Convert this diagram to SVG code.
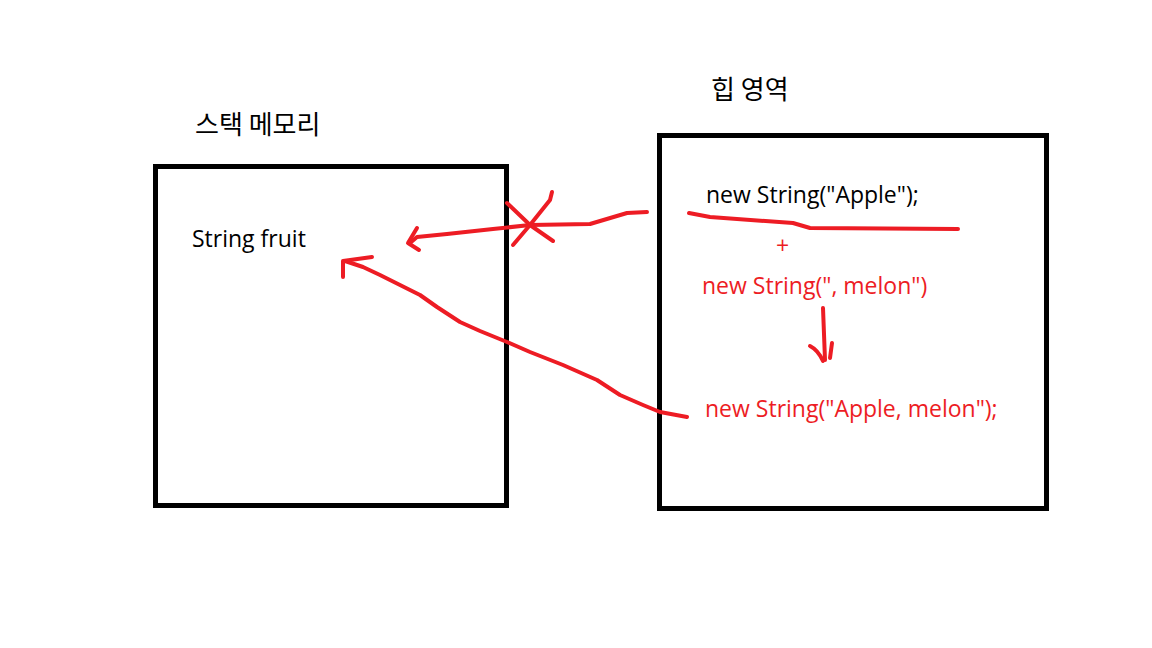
<svg xmlns="http://www.w3.org/2000/svg" width="1152" height="648" viewBox="0 0 1152 648">
<style>
.box{fill:none;stroke:#000;stroke-width:5}
.ink{fill:none;stroke:#ed1c24;stroke-width:4;stroke-linecap:round;stroke-linejoin:round}
.t{font-family:"Open Sans","Noto Sans CJK KR",sans-serif;font-size:23px;fill:#000}
.r{fill:#ed1c24}
.k{font-family:"Noto Sans CJK KR","Noto Sans",sans-serif;font-size:26px;fill:#000}
</style>
<rect width="1152" height="648" fill="#fff"/>
<g id="stack">
<rect class="box" x="155.5" y="166.5" width="351" height="339"/>
<text class="k" x="195" y="134">스택 메모리</text>
<text class="t" x="192" y="247">String fruit</text>
</g>
<g id="heap">
<rect class="box" x="659.5" y="135.5" width="387" height="373"/>
<text class="k" x="711" y="99">힙 영역</text>
<text class="t" x="706" y="203">new String("Apple");</text>
<text class="t r" x="776" y="254" font-size="18">+</text>
<text class="t r" x="702" y="294">new String(", melon")</text>
<text class="t r" x="705" y="417">new String("Apple, melon");</text>
</g>
<g id="connectors">
<path class="ink" d="M647,212 L627,213 L590,224 L530,225 L493,229 L447,234 L417,237 L410,243"/>
<path class="ink" d="M417,228 L408,243 L419,250"/>
<path class="ink" d="M507,203 L530,225 L553,241"/>
<path class="ink" d="M552,192 L550,200 L530,225 L513,245"/>
<path class="ink" d="M689,213 L710,217 L793,223 L810,228 L958,229"/>
<path class="ink" d="M823,308 L825,360"/>
<path class="ink" d="M810,346 Q818,350 823,361 M832,343 L830,358"/>
<path class="ink" d="M687,417 L660,412 L643,405 L620,395 L597,380 L563,365 L530,352 L507,342 L480,331 L460,322 L437,307 L420,295 L400,285 L380,275 L363,267 L345,261"/>
<path class="ink" d="M372,257 L343,261 L343,277"/>
</g>
</svg>
